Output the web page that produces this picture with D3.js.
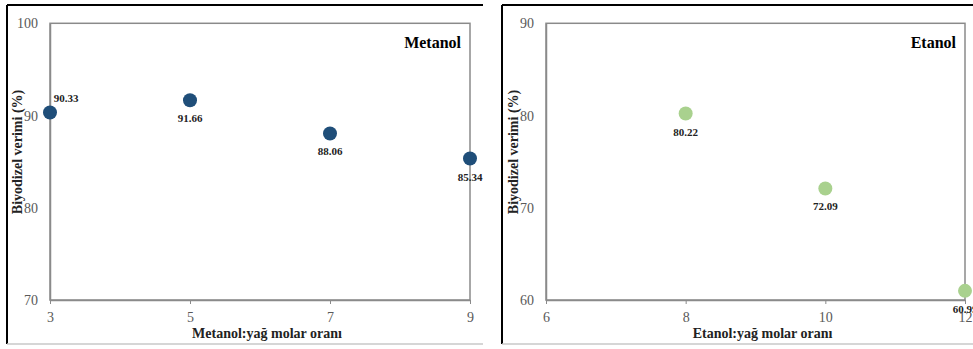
<!DOCTYPE html>
<html><head><meta charset="utf-8">
<script src="https://cdn.jsdelivr.net/npm/d3@7"></script>
<style>body{margin:0;background:#fff}svg{display:block}</style>
</head><body>
<svg id="c" width="973" height="349"></svg>
<script>
const metanolX = [3, 5, 7, 9];
const metanolY = [90.33, 91.66, 88.06, 85.34];
const metanolXTicks = [3, 5, 7, 9];
const metanolYTicks = [70, 80, 90, 100];
const etanolX = [8, 10, 12];
const etanolY = [80.22, 72.09, 60.99];
const etanolXTicks = [6, 8, 10, 12];
const etanolYTicks = [60, 70, 80, 90];
const panelNames = ["Metanol", "Etanol"];
const xTitles = ["Metanol:yağ molar oranı", "Etanol:yağ molar oranı"];
const yTitle = "Biyodizel verimi (%)";

(function () {
const svg = d3.select("#c");
const serif = "'Liberation Serif','Times New Roman',serif";

const panels = [
  {xs: metanolX, ys: metanolY, xt: metanolXTicks, yt: metanolYTicks, name: panelNames[0], xTitle: xTitles[0],
   frame: [7, 483], plot: [50, 470], color: "#1f4e79", firstAbove: true},
  {xs: etanolX, ys: etanolY, xt: etanolXTicks, yt: etanolYTicks, name: panelNames[1], xTitle: xTitles[1],
   frame: [502, 975], plot: [546, 965], color: "#a9d18e", firstAbove: false}
];
const plotTop = 23.3, plotBottom = 300;

panels.forEach(p => {
  const g = svg.append("g");
  g.append("line").attr("x1", p.frame[0]).attr("x2", p.frame[0]).attr("y1", 5).attr("y2", 344).attr("stroke", "#000").attr("stroke-width", 2);
  g.append("line").attr("x1", p.frame[0]).attr("x2", p.frame[1]).attr("y1", 5).attr("y2", 5).attr("stroke", "#000").attr("stroke-width", 2);
  g.append("line").attr("x1", p.frame[0]).attr("x2", p.frame[1]).attr("y1", 344).attr("y2", 344).attr("stroke", "#c8c8c8").attr("stroke-width", 1.5);

  const x = d3.scaleLinear().domain(d3.extent(p.xt)).range(p.plot);
  const y = d3.scaleLinear().domain(d3.extent(p.yt)).range([plotBottom, plotTop]);

  g.append("rect").attr("x", p.plot[0]).attr("y", plotTop).attr("width", p.plot[1] - p.plot[0]).attr("height", plotBottom - plotTop)
    .attr("fill", "none").attr("stroke", "#8a8a8a").attr("stroke-width", 1.5);

  const xa = g.append("g").attr("transform", `translate(0,${plotBottom})`)
    .call(d3.axisBottom(x).tickValues(p.xt).tickSize(4).tickSizeOuter(0).tickPadding(8).tickFormat(d3.format("d")));
  xa.select(".domain").attr("stroke", "#8a8a8a").attr("stroke-width", 1.5);
  xa.selectAll(".tick line").attr("stroke", "#8a8a8a");
  xa.selectAll("text").attr("font-family", serif).attr("font-size", 14).attr("fill", "#595959");

  const ya = g.append("g").attr("transform", `translate(${p.plot[0]},0)`)
    .call(d3.axisLeft(y).tickValues(p.yt).tickSize(0).tickPadding(12).tickFormat(d3.format("d")));
  ya.select(".domain").attr("stroke", "#8a8a8a").attr("stroke-width", 1.5);
  ya.selectAll("text").attr("font-family", serif).attr("font-size", 14).attr("fill", "#595959");

  g.append("text").attr("transform", `translate(${p.plot[0] - 33},152) rotate(-90)`).attr("text-anchor", "middle")
    .attr("dy", "0.35em").attr("font-family", serif).attr("font-weight", "bold").attr("font-size", 14).attr("fill", "#222").text(yTitle);
  g.append("text").attr("x", (p.plot[0] + p.plot[1]) / 2 + 7).attr("y", 338).attr("text-anchor", "middle")
    .attr("font-family", serif).attr("font-weight", "bold").attr("font-size", 14).attr("fill", "#222").text(p.xTitle);
  g.append("text").attr("x", p.plot[1] - 9).attr("y", 48).attr("text-anchor", "end")
    .attr("font-family", serif).attr("font-weight", "bold").attr("font-size", 16).attr("fill", "#000").text(p.name);

  const data = p.xs.map((v, i) => ({x: v, y: p.ys[i], i}));
  g.selectAll("circle.pt").data(data).enter().append("circle")
    .attr("cx", d => x(d.x)).attr("cy", d => y(d.y)).attr("r", 7).attr("fill", p.color);
  g.selectAll("text.lbl").data(data).enter().append("text")
    .attr("x", d => x(d.x) + (p.firstAbove && d.i === 0 ? 16 : 0))
    .attr("y", d => y(d.y) + (p.firstAbove && d.i === 0 ? -10 : 22))
    .attr("text-anchor", "middle").attr("font-family", serif).attr("font-weight", "bold")
    .attr("font-size", 11).attr("fill", "#222").text(d => d.y.toFixed(2));
});
})();
</script>
</body></html>
